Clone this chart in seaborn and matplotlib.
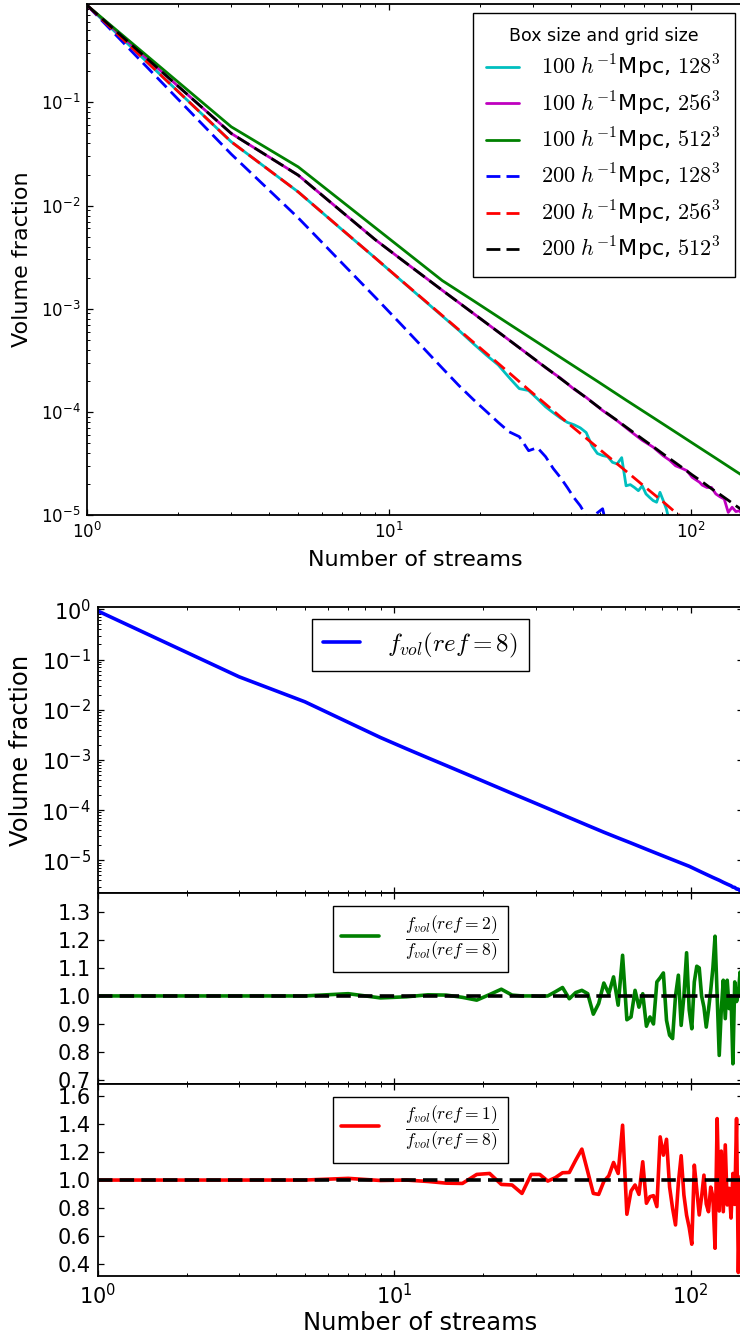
import numpy as np
import matplotlib
matplotlib.use("Agg")
import matplotlib.pyplot as plt
from matplotlib.ticker import FormatStrFormatter, FixedLocator
import seaborn as sns

# ---------------- data ----------------
# Top panel: volume fraction vs number of streams
x_c128 = [1, 3, 5, 7, 9, 11, 13, 15, 17, 19, 21, 23, 25, 27, 29, 31, 33, 35, 37, 39,
          41, 43, 45, 47, 49, 51, 53, 55, 57, 59, 61, 63, 65, 67, 69, 71, 73, 75, 77,
          79, 81, 83, 85, 87]
y_c128 = [0.87, 0.0415, 0.01355, 5.8e-3, 3.1e-3, 1.86e-3, 1.22e-3, 8.5e-4, 6.2e-4,
          4.6e-4, 3.55e-4, 2.85e-4, 2.15e-4, 1.68e-4, 1.61e-4, 1.34e-4, 1.12e-4,
          9.8e-5, 8.7e-5, 7.9e-5, 7.5e-5, 7.0e-5, 6.3e-5, 4.7e-5, 3.95e-5, 3.77e-5,
          3.68e-5, 3.24e-5, 3.13e-5, 3.6e-5, 1.92e-5, 1.97e-5, 1.85e-5, 1.72e-5,
          1.92e-5, 1.60e-5, 1.48e-5, 1.38e-5, 1.33e-5, 1.66e-5, 1.38e-5, 1.14e-5,
          8.5e-6, 7.0e-6]

x_m256 = [1, 3, 5, 7, 9, 11, 13, 15, 17, 19, 21, 25, 29, 33, 37, 41, 45, 51, 57, 63,
          69, 75, 81, 85, 89, 93, 97, 101, 105, 107, 109, 113, 117, 121, 125, 129,
          133, 137, 141, 145, 149]
y_m256 = [0.87, 0.050, 0.0197, 8.63e-3, 4.67e-3, 2.99e-3, 2.07e-3, 1.51e-3, 1.15e-3,
          9.03e-4, 7.26e-4, 4.96e-4, 3.58e-4, 2.68e-4, 2.12e-4, 1.66e-4, 1.38e-4,
          1.03e-4, 8.2e-5, 6.5e-5, 5.3e-5, 4.55e-5, 3.75e-5, 3.4e-5, 3.0e-5, 2.85e-5,
          2.69e-5, 2.32e-5, 2.15e-5, 2.07e-5, 1.95e-5, 1.85e-5, 1.85e-5, 1.6e-5,
          1.5e-5, 1.43e-5, 1.06e-5, 1.19e-5, 1.08e-5, 1.1e-5, 0.98e-5]

x_g512 = [1, 3, 5, 7, 9, 11, 13, 15, 19, 25, 31, 39, 49, 61, 75, 91, 101, 111, 121,
          131, 141, 149]
y_g512 = [0.87, 0.058, 0.0237, 1.09e-2, 6.1e-3, 3.84e-3, 2.61e-3, 1.875e-3, 1.20e-3,
          7.10e-4, 4.72e-4, 3.05e-4, 1.98e-4, 1.30e-4, 8.8e-5, 6.1e-5, 5.0e-5,
          4.18e-5, 3.55e-5, 3.05e-5, 2.65e-5, 2.39e-5]

x_b128 = [1, 3, 5, 7, 9, 11, 13, 15, 17, 19, 21, 23, 25, 27, 29, 31, 33, 35, 37, 39,
          41, 43, 45, 47, 49, 51, 53, 55]
y_b128 = [0.87, 0.0315, 7.6e-3, 2.75e-3, 1.29e-3, 6.97e-4, 4.15e-4, 2.66e-4, 1.81e-4,
          1.32e-4, 1.01e-4, 7.9e-5, 6.4e-5, 5.75e-5, 4.2e-5, 4.5e-5, 3.68e-5, 2.82e-5,
          2.3e-5, 1.84e-5, 1.47e-5, 1.23e-5, 9.8e-6, 8.5e-6, 1.05e-5, 1.15e-5, 7e-6,
          5e-6]

x_r256 = [1, 3, 5, 7, 9, 11, 13, 15, 17, 19, 21, 25, 29, 33, 37, 41, 45, 51, 57, 63,
          69, 75, 81, 87, 93, 101]
y_r256 = [0.87, 0.0415, 0.01355, 5.82e-3, 3.10e-3, 1.87e-3, 1.23e-3, 8.60e-4, 6.28e-4,
          4.75e-4, 3.70e-4, 2.39e-4, 1.64e-4, 1.19e-4, 8.91e-5, 6.95e-5, 5.55e-5,
          4.10e-5, 3.13e-5, 2.46e-5, 1.97e-5, 1.61e-5, 1.34e-5, 1.12e-5, 9.6e-6, 7.8e-6]

x_k512 = [1, 3, 5, 7, 9, 11, 13, 15, 17, 19, 21, 25, 29, 33, 37, 41, 45, 51, 57, 63,
          69, 75, 81, 87, 93, 101, 109, 117, 125, 133, 141, 149]
y_k512 = [0.87, 0.050, 0.0197, 8.63e-3, 4.67e-3, 2.99e-3, 2.07e-3, 1.51e-3, 1.15e-3,
          9.03e-4, 7.26e-4, 4.96e-4, 3.58e-4, 2.70e-4, 2.10e-4, 1.68e-4, 1.37e-4,
          1.04e-4, 8.25e-5, 6.65e-5, 5.48e-5, 4.6e-5, 3.9e-5, 3.36e-5, 2.92e-5,
          2.45e-5, 2.1e-5, 1.8e-5, 1.58e-5, 1.39e-5, 1.23e-5, 1.1e-5]

top_labels = [r"$100\ h^{-1}$Mpc, $128^3$", r"$100\ h^{-1}$Mpc, $256^3$",
              r"$100\ h^{-1}$Mpc, $512^3$", r"$200\ h^{-1}$Mpc, $128^3$",
              r"$200\ h^{-1}$Mpc, $256^3$", r"$200\ h^{-1}$Mpc, $512^3$"]
legend_title = "Box size and grid size"

# Bottom figure: f_vol(ref=8) and ratios
x_f8 = [1, 3, 5, 7, 9, 11, 13, 15, 17, 19, 21, 25, 29, 33, 39, 45, 51, 57, 63, 71,
        79, 89, 99, 109, 119, 125, 129, 133, 137, 139, 141, 143, 145, 147, 149]
y_f8 = [0.93, 0.0453, 0.0144, 5.62e-3, 2.79e-3, 1.67e-3, 1.10e-3, 7.72e-4, 5.65e-4,
        4.28e-4, 3.33e-4, 2.15e-4, 1.49e-4, 1.08e-4, 7.08e-5, 4.95e-5, 3.63e-5,
        2.79e-5, 2.21e-5, 1.66e-5, 1.29e-5, 9.75e-6, 7.6e-6, 5.8e-6, 4.55e-6,
        4.0e-6, 3.64e-6, 3.35e-6, 3.1e-6, 2.92e-6, 2.88e-6, 2.68e-6, 2.66e-6,
        2.47e-6, 2.4e-6]

x_ratio = list(range(1, 150, 2))   # odd stream numbers 1..149
ratio_ref2 = [1.0, 1.0, 1.0, 1.008, 0.993, 0.997, 1.004, 1.003, 0.995, 0.985,
              1.005, 1.024, 1.003, 1.0, 1.0, 0.999, 1.0, 1.015, 1.03, 0.99,
              1.012, 1.02, 1.008, 0.935, 0.973, 1.046, 1.008, 1.068, 0.967, 1.145,
              0.915, 0.925, 1.02, 0.96, 1.008, 0.892, 0.925, 0.9, 1.05, 1.065,
              1.082, 0.913, 0.86, 0.848, 1.0, 1.074, 0.895, 1.0, 1.154, 0.95,
              0.883, 1.05, 1.106, 1.10, 1.0, 0.96, 0.889, 0.95, 1.02, 1.1,
              1.213, 1.0, 0.788, 0.95, 1.056, 0.919, 1.056, 0.955, 1.0, 0.758,
              1.05, 0.98, 1.008, 1.085, 1.02]
ratio_ref1 = [1.0, 1.0, 1.0, 1.012, 0.997, 1.0, 0.99, 0.978, 0.976, 1.04,
              1.047, 0.969, 0.965, 0.905, 1.04, 1.04, 0.993, 1.017, 1.052, 1.054,
              1.142, 1.22, 1.06, 0.905, 0.898, 0.99, 1.03, 1.125, 1.047, 1.39,
              0.757, 0.922, 0.965, 0.898, 1.13, 0.835, 0.882, 0.889, 0.811, 1.307,
              1.177, 1.29, 0.95, 0.799, 0.681, 0.98, 1.173, 0.894, 0.75, 0.662,
              0.544, 1.106, 0.929, 0.752, 0.88, 1.035, 0.83, 0.775, 0.95, 0.882,
              0.515, 1.437, 0.78, 1.206, 0.775, 1.25, 0.823, 0.941, 0.73, 1.047,
              0.827, 1.437, 0.343, 0.95, 1.1]
ratio_ref_level = 1.0
lab_f8 = r"$f_{vol}(ref=8)$"
lab_r2 = r"$\frac{f_{vol}(ref=2)}{f_{vol}(ref=8)}$"
lab_r1 = r"$\frac{f_{vol}(ref=1)}{f_{vol}(ref=8)}$"
xlab = "Number of streams"
ylab = "Volume fraction"

# ---------------- style ----------------
sns.set_style("ticks")
plt.rcParams.update({
    "font.family": ["DejaVu Sans"],
    "mathtext.fontset": "cm",
    "axes.unicode_minus": False,
    "xtick.direction": "in", "ytick.direction": "in",
    "xtick.top": True, "ytick.right": True,
    "xtick.major.size": 4.5, "ytick.major.size": 4.5,
    "xtick.minor.size": 2.3, "ytick.minor.size": 2.3,
    "xtick.major.width": 0.9, "ytick.major.width": 0.9,
    "xtick.minor.width": 0.7, "ytick.minor.width": 0.7,
    "axes.linewidth": 1.3,
    "axes.edgecolor": "black",
    "xtick.color": "black", "ytick.color": "black",
    "axes.labelcolor": "black", "text.color": "black",
    "legend.fancybox": False, "legend.edgecolor": "black",
    "legend.framealpha": 1.0, "legend.frameon": True,
    "patch.linewidth": 1.0,
})

fig = plt.figure(figsize=(7.4, 13.4), dpi=100)
W, H = 740.0, 1340.0


def add_ax(left, right, top, bottom, **kw):
    return fig.add_axes([left / W, 1 - bottom / H, (right - left) / W, (bottom - top) / H], **kw)


def draw(ax, x, y, color, lw, dashes=None, label=None):
    sns.lineplot(x=x, y=y, ax=ax, color=color, linewidth=lw, estimator=None,
                 sort=False, label=label)
    line = ax.lines[-1]
    if dashes is not None:
        line.set_dashes(dashes)
    return line


# ---------------- top plot ----------------
ax0 = add_ax(87.3, 744.0, 4.0, 515.0)
ax0.set_xscale("log")
ax0.set_yscale("log")
series = [(x_c128, y_c128, "c", None), (x_m256, y_m256, "m", None),
          (x_g512, y_g512, "g", None), (x_b128, y_b128, "b", (5, 2.2)),
          (x_r256, y_r256, "r", (5, 2.2)), (x_k512, y_k512, "k", (5, 2.2))]
handles = []
for (xs, ys, col, ds), lab in zip(series, top_labels):
    handles.append(draw(ax0, xs, ys, col, 2.0, ds, lab))
ax0.set_xlim(1, 150)
ax0.set_ylim(1e-5, 0.9)
ax0.set_xlabel(xlab, fontsize=16, labelpad=6)
ax0.set_ylabel(ylab, fontsize=16, labelpad=6)
ax0.tick_params(labelsize=12, pad=5)
ax0.tick_params(which="both", right=False)
leg0 = ax0.legend(handles, top_labels, loc="upper right", title=legend_title,
                  fontsize=16, title_fontsize=12.5, handlelength=1.5,
                  handletextpad=1.0, labelspacing=0.38, borderpad=0.6,
                  borderaxespad=0.42)
leg0.get_frame().set_linewidth(1.0)

# ---------------- bottom figure ----------------
ax1 = add_ax(97.7, 742.7, 606.7, 893.3)
ax2 = add_ax(97.7, 742.7, 893.3, 1084.0, sharex=ax1)
ax3 = add_ax(97.7, 742.7, 1084.0, 1275.7, sharex=ax1)
for a in (ax1, ax2, ax3):
    a.set_xscale("log")
ax1.set_yscale("log")

h1 = draw(ax1, x_f8, y_f8, "b", 2.6, None, lab_f8)
ax1.set_ylim(2.2e-6, 1.13)
ax1.set_ylabel(ylab, fontsize=17.5, labelpad=6)
l1 = ax1.legend([h1], [lab_f8], loc="upper center", fontsize=18, handlelength=1.5,
                handletextpad=1.05, borderpad=0.45, borderaxespad=0.5)
l1.get_frame().set_linewidth(1.0)

h2 = draw(ax2, x_ratio, ratio_ref2, "g", 2.6, None, lab_r2)
ax2.axhline(ratio_ref_level, color="k", lw=2.6, dashes=(4, 2))
ax2.set_ylim(0.686, 1.366)
ax2.yaxis.set_major_locator(FixedLocator([0.7, 0.8, 0.9, 1.0, 1.1, 1.2, 1.3]))
ax2.yaxis.set_major_formatter(FormatStrFormatter("%.1f"))
l2 = ax2.legend([h2], [lab_r2], loc="upper center", fontsize=18, handlelength=1.5,
                handletextpad=1.05, borderpad=0.35, borderaxespad=0.5)
l2.get_frame().set_linewidth(1.0)

h3 = draw(ax3, x_ratio, ratio_ref1, "r", 2.6, None, lab_r1)
ax3.axhline(ratio_ref_level, color="k", lw=2.6, dashes=(4, 2))
ax3.set_ylim(0.32, 1.683)
ax3.yaxis.set_major_locator(FixedLocator([0.4, 0.6, 0.8, 1.0, 1.2, 1.4, 1.6]))
ax3.yaxis.set_major_formatter(FormatStrFormatter("%.1f"))
l3 = ax3.legend([h3], [lab_r1], loc="upper center", fontsize=18, handlelength=1.5,
                handletextpad=1.05, borderpad=0.35, borderaxespad=0.5)
l3.get_frame().set_linewidth(1.0)
ax3.set_xlim(1, 150)

for a in (ax1, ax2, ax3):
    a.tick_params(labelsize=15, pad=5)
ax1.tick_params(labelbottom=False)
ax2.tick_params(labelbottom=False)
ax1.set_xlabel("")
ax2.set_xlabel("")
ax2.set_ylabel("")
ax3.set_ylabel("")
ax3.set_xlabel(xlab, fontsize=17.5, labelpad=2)

fig.savefig("out.png", dpi=100)
